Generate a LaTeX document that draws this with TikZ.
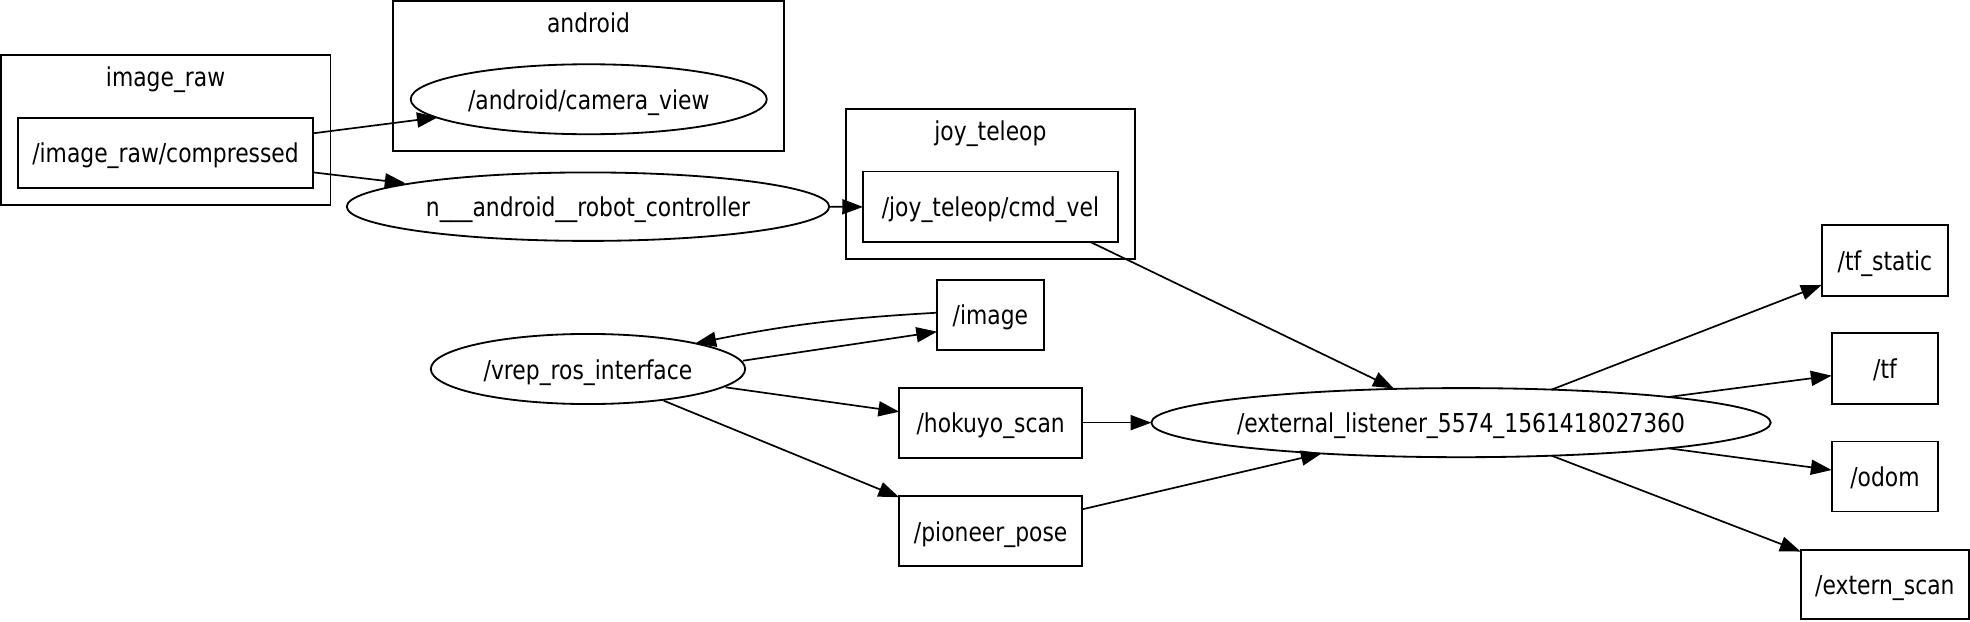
\documentclass[tikz,border=0pt]{standalone}
\usepackage{fontspec}
\setmainfont{DejaVu Sans}[FakeStretch=0.84]
\usetikzlibrary{arrows.meta,shapes.geometric}
\begin{document}
\begin{tikzpicture}[x=1pt,y=-1pt,
  every node/.style={font=\fontsize{20.7}{24}\selectfont, text height=20pt, text depth=4pt, inner sep=0pt, outer sep=0pt},
  topic/.style={draw, line width=1.45pt, rectangle},
  rosnode/.style={draw, line width=1.45pt, ellipse},
  cluster/.style={draw, line width=1.45pt, rectangle},
  conn/.style={line width=1.35pt, -{Triangle[length=16.5pt,width=12pt]}}
]
\useasboundingbox (0,0) rectangle (1568,494.3);

% clusters
\node[cluster, minimum width=262.6pt, minimum height=119.4pt] (cimg) at (131.8,103.5) {};
\node (cimglabel) at (131.8,60.6) {image\_raw};
\node[cluster, minimum width=311.5pt, minimum height=119.4pt] (cand) at (468.45,60.5) {};
\node (candlabel) at (468.45,17.6) {android};
\node[cluster, minimum width=229.8pt, minimum height=119.3pt] (cjoy) at (788.3,146.45) {};
\node (cjoylabel) at (788.3,103.6) {joy\_teleop};

% nodes
\node[topic, minimum width=235.1pt, minimum height=55.7pt] (comp) at (131.75,121.5) {/image\_raw/compressed};
\node[rosnode, minimum width=283.4pt, minimum height=55.7pt] (cam) at (468.6,79) {\makebox[0pt]{/android/camera\_view}};
\node[rosnode, minimum width=384pt, minimum height=54.5pt] (robot) at (468,164.5) {\makebox[0pt]{n\_\_\_android\_\_robot\_controller}};
\node[topic, minimum width=202.8pt, minimum height=56.3pt] (cmd) at (788.3,164.7) {/joy\_teleop/cmd\_vel};
\node[topic, minimum width=84.9pt, minimum height=55.6pt] (image) at (788.3,250.6) {/image};
\node[rosnode, minimum width=250.2pt, minimum height=55.8pt] (vrep) at (468,293.7) {\makebox[0pt]{/vrep\_ros\_interface}};
\node[topic, minimum width=145.7pt, minimum height=55.8pt] (hokuyo) at (788.5,336.4) {/hokuyo\_scan};
\node[topic, minimum width=145.7pt, minimum height=55.7pt] (pioneer) at (788.5,422.6) {/pioneer\_pose};
\node[rosnode, minimum width=493pt, minimum height=55pt] (ext) at (1162.9,336.4) {\makebox[0pt]{/external\_listener\_5574\_1561418027360}};
\node[topic, minimum width=100.7pt, minimum height=56.6pt] (tfs) at (1500.3,207.3) {/tf\_static};
\node[topic, minimum width=84.9pt, minimum height=56.3pt] (tf) at (1500.3,293.4) {/tf};
\node[topic, minimum width=84.9pt, minimum height=55.7pt] (odom) at (1500.3,379.3) {/odom};
\node[topic, minimum width=134pt, minimum height=55.1pt] (exs) at (1500.2,465.3) {/extern\_scan};

% connectors
\draw[conn] ([shift={(117.55,-15.4)}]comp.center) -- ([shift={(-120.2,14.4)}]cam.center);
\draw[conn] ([shift={(117.55,15.7)}]comp.center) -- ([shift={(-145.2,-18.6)}]robot.center);
\draw[conn] (robot.east) -- (cmd.west);
\draw[conn] ([shift={(80.1,28.15)}]cmd.center) -- ([shift={(-53.6,-27.3)}]ext.center);
\draw[conn] ([shift={(-42.45,-1.7)}]image.center) to[bend right=4] ([shift={(85.5,-20.4)}]vrep.center);
\draw[conn] ([shift={(123.4,-6.6)}]vrep.center) -- ([shift={(-42.45,13.4)}]image.center);
\draw[conn] ([shift={(109.6,14.6)}]vrep.center) -- ([shift={(-72.85,-8.7)}]hokuyo.center);
\draw[conn] ([shift={(60.2,25.2)}]vrep.center) -- ([shift={(-72.85,-26.8)}]pioneer.center);
\draw[conn] (hokuyo.east) -- (ext.west);
\draw[conn] ([shift={(72.85,-17.2)}]pioneer.center) -- ([shift={(-110.9,24.4)}]ext.center);
\draw[conn] ([shift={(72.1,-26.3)}]ext.center) -- ([shift={(-50.35,19.5)}]tfs.center);
\draw[conn] ([shift={(165,-20.4)}]ext.center) -- ([shift={(-42.45,5.6)}]tf.center);
\draw[conn] ([shift={(165,20.4)}]ext.center) -- ([shift={(-42.45,-5.2)}]odom.center);
\draw[conn] ([shift={(72.1,26.3)}]ext.center) -- ([shift={(-67,-26.3)}]exs.center);
\end{tikzpicture}
\end{document}
